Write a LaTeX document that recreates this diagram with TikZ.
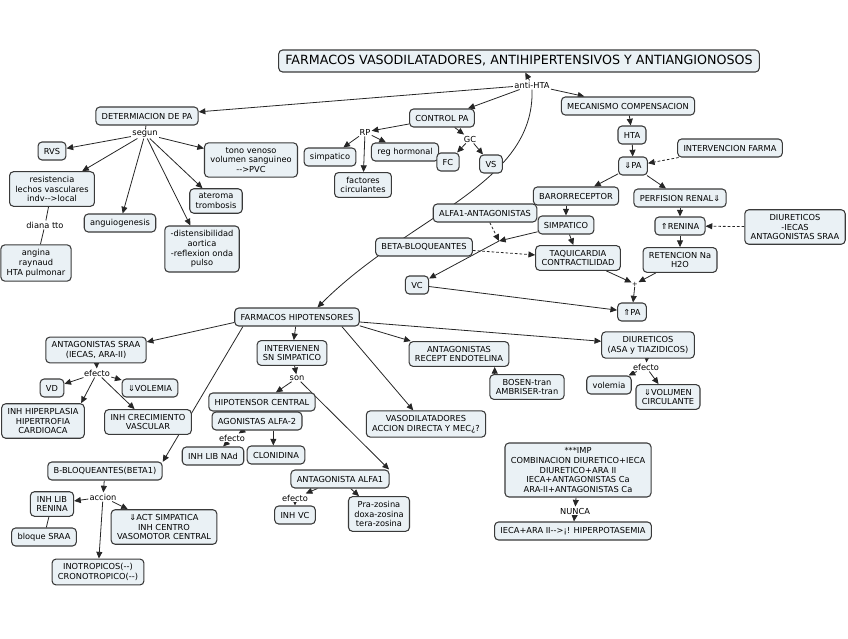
\documentclass[tikz,border=0pt]{standalone}
\usepackage{fontspec}
\setmainfont{DejaVu Sans}
\usetikzlibrary{arrows.meta}
\definecolor{bxfill}{HTML}{EAF1F5}
\definecolor{bxline}{HTML}{3A3A3A}
\definecolor{lc}{HTML}{262626}
\newcommand\hy{\mbox{-}}
\pgfdeclarelayer{bg}
\pgfsetlayers{bg,main}
\begin{document}
\begin{tikzpicture}[x=0.75pt,y=-0.75pt,
  bx/.style={draw=bxline, fill=bxfill, rounded corners=3pt, line width=0.8pt,
    font=\fontsize{6.2}{7.3}\selectfont, align=center, inner xsep=4.4pt, inner ysep=3.3pt,
    minimum height=13.5pt},
  lb/.style={font=\fontsize{6.2}{7.3}\selectfont, inner sep=0.8pt, fill=white},
  ln/.style={draw=lc, line width=0.6pt},
  arr/.style={ln, -{Triangle[length=5pt,width=4.5pt]}},
  dsh/.style={arr, dash pattern=on 2pt off 1.5pt}]
\useasboundingbox (0,0) rectangle (848,638);
% title
\node[bx, font=\fontsize{9.5}{11}\selectfont, inner xsep=5pt, minimum height=16.5pt] (title) at (519,61) {FARMACOS VASODILATADORES, ANTIHIPERTENSIVOS Y ANTIANGIONOSOS};
\node[lb] (anti) at (532,85) {anti-HTA};
% determinacion
\node[bx] (det) at (147,116) {DETERMIACION DE PA};
\node[lb] (segun) at (145,134) {segun};
\node[bx] (rvs) at (52,151) {RVS};
\node[bx] (tono) at (251,160) {tono venoso\\volumen sanguineo\\\hy\hy>PVC};
\node[bx] (res) at (52,189) {resistencia\\lechos vasculares\\indv\hy\hy>local};
\node[bx] (ater) at (216,201) {ateroma\\trombosis};
\node[bx] (angio) at (120,223) {anguiogenesis};
\node[lb] (diana) at (45,225) {diana tto};
\node[bx] (dist) at (202,249) {-distensibilidad\\aortica\\-reflexion onda\\pulso};
\node[bx] (ang) at (36,263) {angina\\raynaud\\HTA pulmonar};
% control PA
\node[bx] (ctrl) at (442,118) {CONTROL PA};
\node[lb] (rp) at (365,132) {RP};
\node[lb] (gc) at (470,139) {GC};
\node[bx] (simpa) at (330,157) {simpatico};
\node[bx] (reg) at (405,152) {reg hormonal};
\node[bx] (fc) at (448,162) {FC};
\node[bx] (vs) at (491,164) {VS};
\node[bx] (fact) at (363,185) {factores\\circulantes};
% mecanismo
\node[bx] (meca) at (628,106) {MECANISMO COMPENSACION};
\node[bx] (hta) at (632,135) {HTA};
\node[bx] (interv) at (730,148) {INTERVENCION FARMA};
\node[bx] (dpa) at (633,166) {⇓PA};
\node[bx] (baro) at (576,196) {BARORRECEPTOR};
\node[bx] (perf) at (680,198) {PERFISION RENAL⇓};
\node[bx] (simp) at (566,225) {SIMPATICO};
\node[bx] (ren) at (680,226) {⇑RENINA};
\node[bx] (diu1) at (795,227) {DIURETICOS\\-IECAS\\ANTAGONISTAS SRAA};
\node[bx] (taq) at (578,258) {TAQUICARDIA\\CONTRACTILIDAD};
\node[bx] (ret) at (680,260) {RETENCION Na\\H2O};
\node[lb, font=\fontsize{5}{6}\selectfont, inner sep=0.3pt] (plus) at (635,284) {+};
\node[bx] (upa) at (632,312) {⇑PA};
\node[bx] (alfa) at (485,213) {ALFA1-ANTAGONISTAS};
\node[bx] (beta) at (424,247) {BETA-BLOQUEANTES};
\coordinate (j2) at (499,241);
\node[bx] (vc) at (417,285) {VC};
% farmacos
\node[bx] (farm) at (297,317) {FARMACOS HIPOTENSORES};
\node[bx] (sraa) at (96,350) {ANTAGONISTAS SRAA\\(IECAS, ARA-II)};
\node[lb] (ef1) at (97,373) {efecto};
\node[bx] (vd) at (52,388) {VD};
\node[bx] (dvol) at (150,388) {⇓VOLEMIA};
\node[bx] (ihh) at (43,421) {INH HIPERPLASIA\\HIPERTROFIA\\CARDIOACA};
\node[bx] (icv) at (148,422) {INH CRECIMIENTO\\VASCULAR};
\node[bx] (isn) at (292,353) {INTERVIENEN\\SN SIMPATICO};
\node[lb] (son) at (297,378) {son};
\node[bx] (hcen) at (262,402) {HIPOTENSOR CENTRAL};
\node[bx] (ago) at (257,421) {AGONISTAS ALFA-2};
\node[lb] (ef2) at (232,438) {efecto};
\node[bx] (nad) at (213,456) {INH LIB NAd};
\node[bx] (clon) at (276,455) {CLONIDINA};
\node[bx] (aa1) at (340,479) {ANTAGONISTA ALFA1};
\node[lb] (ef3) at (295,498) {efecto};
\node[bx] (ivc) at (295,515) {INH VC};
\node[bx] (praz) at (379,514) {Pra-zosina\\doxa-zosina\\tera-zosina};
\node[bx] (arec) at (459,354) {ANTAGONISTAS\\RECEPT ENDOTELINA};
\node[bx] (bosen) at (527,387) {BOSEN-tran\\AMBRISER-tran};
\node[bx] (vaso) at (426,424) {VASODILATADORES\\ACCION DIRECTA Y MEC¿?};
\node[bx] (diu2) at (648,345) {DIURETICOS\\(ASA y TIAZIDICOS)};
\node[lb] (ef4) at (646,367) {efecto};
\node[bx] (vol) at (609,385) {volemia};
\node[bx] (dvc) at (668,397) {⇓VOLUMEN\\CIRCULANTE};
\node[bx] (imp) at (578,470) {***IMP\\COMBINACION DIURETICO+IECA\\DIURETICO+ARA II\\IECA+ANTAGONISTAS Ca\\ARA-II+ANTAGONISTAS Ca};
\node[lb] (nunca) at (575,511) {NUNCA};
\node[bx] (hiper) at (573,531) {IECA+ARA II\hy\hy>¡! HIPERPOTASEMIA};
\node[bx] (bb) at (105,471) {B-BLOQUEANTES(BETA1)};
\node[lb] (acc) at (103,497) {accion};
\node[bx] (ilr) at (52,504) {INH LIB\\RENINA};
\node[bx] (bsraa) at (44,537) {bloque SRAA};
\node[bx] (act) at (164,527) {⇓ACT SIMPATICA\\INH CENTRO\\VASOMOTOR CENTRAL};
\node[bx] (ino) at (98,572) {INOTROPICOS(\hy\hy)\\CRONOTROPICO(\hy\hy)};
% connectors
\begin{pgfonlayer}{bg}
\draw[arr] (anti) -- (title);
\draw[arr] (anti) -- (det);
\draw[arr] (anti) -- (ctrl);
\draw[arr] (anti) -- (meca);
\draw[arr] (anti.south) .. controls (535,185) and (410,215) .. (farm.25);
\draw[ln] (det) -- (segun);
\draw[arr] (segun) -- (rvs);
\draw[arr] (segun) -- (res);
\draw[arr] (segun) -- (angio);
\draw[arr] (segun) -- (dist);
\draw[arr] (segun) -- (ater);
\draw[arr] (segun) -- (tono);
\draw[ln] (res) -- (diana);
\draw[ln] (diana) -- (ang);
\draw[arr] (ctrl) -- (rp);
\draw[arr] (ctrl) -- (gc);
\draw[arr] (rp) -- (simpa);
\draw[arr] (rp) -- (reg);
\draw[arr] (rp) -- (fact);
\draw[arr] (gc) -- (fc);
\draw[arr] (gc) -- (vs);
\draw[arr] (meca) -- (hta);
\draw[arr] (hta) -- (dpa);
\draw[dsh] (interv) -- (dpa);
\draw[arr] (dpa) -- (baro);
\draw[arr] (dpa) -- (perf);
\draw[arr] (simp.north |- baro.south) -- (simp.north);
\draw[arr] (simp) -- (taq);
\draw[arr] (perf) -- (ren);
\draw[dsh] (diu1) -- (ren);
\draw[arr] (ren) -- (ret);
\draw[arr] (taq) -- (plus);
\draw[arr] (ret) -- (plus);
\draw[arr] (plus) -- (upa);
\draw[arr] (vc) -- (upa);
\draw[dsh] (alfa) -- (j2);
\draw[arr] (simp) -- (j2);
\draw[arr] (j2) -- (vc);
\draw[dsh] (beta) -- (taq);
\draw[arr] (farm.185) -- (sraa.9);
\draw[arr] (farm) -- (isn);
\draw[arr] (farm.190) -- (bb.9);
\draw[arr] (farm.-12) -- (vaso.133);
\draw[arr] (farm.-8) -- (arec.165);
\draw[arr] (farm) -- (diu2);
\draw[arr] (sraa) -- (ef1);
\draw[arr] (ef1) -- (vd);
\draw[arr] (ef1) -- (dvol);
\draw[arr] (ef1) -- (ihh.25);
\draw[arr] (ef1) -- (icv);
\draw[arr] (isn) -- (son);
\draw[arr] (son) -- (hcen);
\draw[arr] (son) -- (aa1.11);
\draw[ln] (hcen) -- (ago);
\draw[arr] (ago) -- (ef2);
\draw[arr] (ef2) -- (nad);
\draw[arr] ([xshift=-2pt]clon.north |- ago.south) -- ([xshift=-2pt]clon.north);
\draw[arr] (aa1) -- (ef3);
\draw[arr] (ef3) -- (ivc);
\draw[arr] (aa1) -- (praz);
\draw[arr] ([xshift=4pt]bosen.north west) -- ([xshift=4pt]bosen.north west |- arec.south);
\draw[arr] (diu2) -- (ef4);
\draw[arr] (ef4) -- (vol);
\draw[arr] (ef4) -- (dvc);
\draw[arr] (imp) -- (nunca);
\draw[arr] (nunca) -- (hiper);
\draw[arr] (bb) -- (acc);
\draw[arr] (acc) -- (ilr);
\draw[arr] (acc) -- (act);
\draw[arr] (acc) -- (ino);
\draw[ln] (ilr) -- (bsraa);
\end{pgfonlayer}
\end{tikzpicture}
\end{document}
